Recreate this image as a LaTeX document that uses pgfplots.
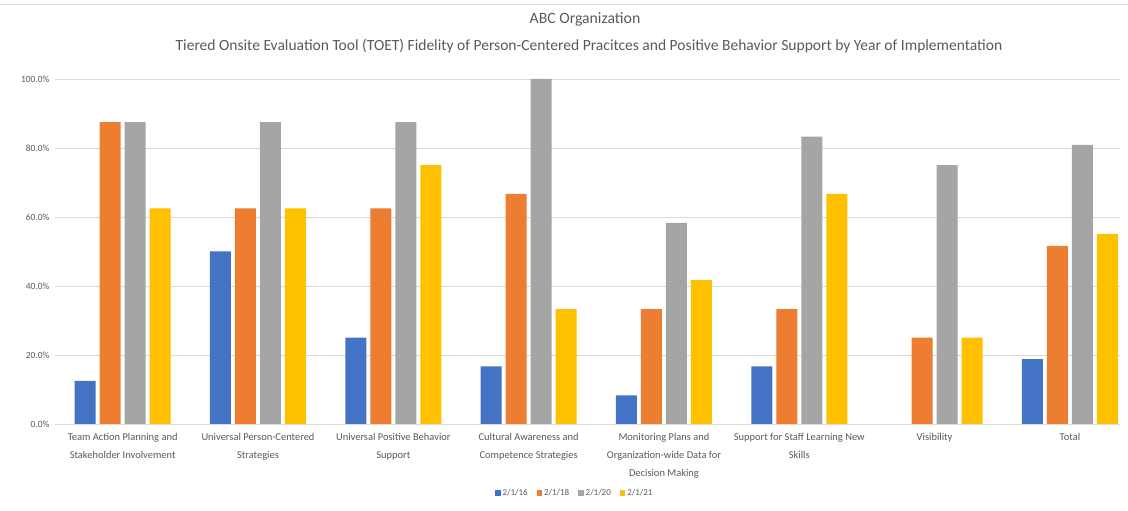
\documentclass[border=0pt]{standalone}
\usepackage{pgfplots}
\pgfplotsset{compat=1.18}
\usepackage{fontspec}
\setmainfont{Carlito}
\definecolor{cblue}{HTML}{4472C4}
\definecolor{corange}{HTML}{ED7D31}
\definecolor{cgray}{HTML}{A5A5A5}
\definecolor{cyellow}{HTML}{FFC000}
\definecolor{gridc}{HTML}{D9D9D9}
\definecolor{txt}{HTML}{595959}
\begin{document}
\begin{tikzpicture}
\useasboundingbox (0,0) rectangle (1128bp,511bp);
\draw[gridc, line width=1bp] (0,506bp) -- (1128bp,506bp);
\node[text=txt, font=\fontsize{15.8}{18}\selectfont] at (585bp,492bp) {ABC Organization};
\node[text=txt, font=\fontsize{15.6}{18}\selectfont] at (589bp,465bp) {Tiered Onsite Evaluation Tool (TOET) Fidelity of Person-Centered Pracitces and Positive Behavior Support by Year of Implementation};
\begin{axis}[
  at={(55bp,87bp)}, anchor=south west,
  scale only axis, width=1065bp, height=345bp,
  xmin=-0.5, xmax=7.37, ymin=0, ymax=100,
  ybar=4bp, bar width=21bp,
  axis line style={draw=none},
  major tick length=0pt,
  ymajorgrids, grid style={gridc, line width=0.8bp},
  ytick={0,20,40,60,80,100},
  yticklabels={0.0\%,20.0\%,40.0\%,60.0\%,80.0\%,100.0\%},
  yticklabel style={text=txt, font=\fontsize{9.5}{10}\selectfont, xshift=-2bp},
  xtick={0,1,2,3,4,5,6,7},
  xticklabels={{Team Action Planning and\\Stakeholder Involvement},{Universal Person-Centered\\Strategies},{Universal Positive Behavior\\Support},{Cultural Awareness and\\Competence Strategies},{Monitoring Plans and\\Organization-wide Data for\\Decision Making},{Support for Staff Learning New\\Skills},{Visibility},{Total}},
  xticklabel style={text=txt, font=\fontsize{10.5}{18}\selectfont, align=center, anchor=north, yshift=-6bp},
  legend style={draw=none, at={(0.488,-0.2)}, anchor=center, legend columns=4, font=\fontsize{9}{10}\selectfont, text=txt, /tikz/every even column/.append style={column sep=7bp}},
  legend image code/.code={\fill[#1] (0bp,-2.8bp) rectangle (5.5bp,2.8bp);},
]
\addplot[fill=cblue, draw=none] coordinates {(0,12.5) (1,50) (2,25) (3,16.7) (4,8.3) (5,16.7) (7,18.8)};
\addplot[fill=corange, draw=none] coordinates {(0,87.5) (1,62.5) (2,62.5) (3,66.7) (4,33.3) (5,33.3) (6,25) (7,51.6)};
\addplot[fill=cgray, draw=none] coordinates {(0,87.5) (1,87.5) (2,87.5) (3,100) (4,58.3) (5,83.3) (6,75) (7,80.9)};
\addplot[fill=cyellow, draw=none] coordinates {(0,62.5) (1,62.5) (2,75) (3,33.3) (4,41.7) (5,66.7) (6,25) (7,55.1)};
\legend{2/1/16,2/1/18,2/1/20,2/1/21}
\end{axis}
\end{tikzpicture}
\end{document}
